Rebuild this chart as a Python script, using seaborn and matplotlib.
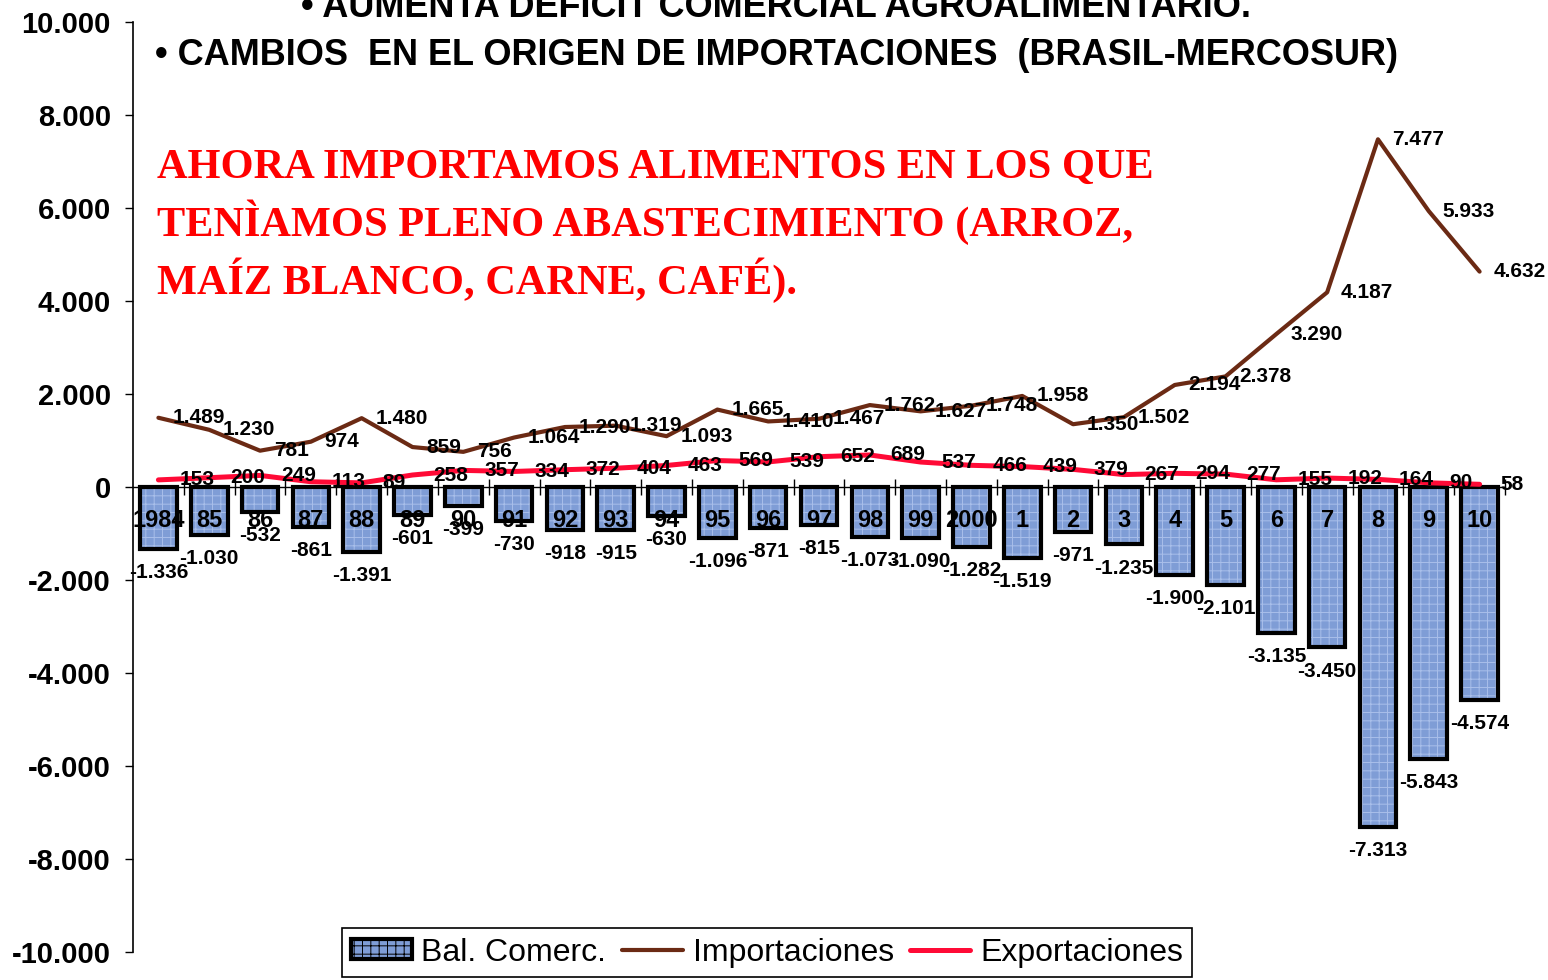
import numpy as np
import pandas as pd
import matplotlib
matplotlib.use('Agg')
import matplotlib.pyplot as plt
import seaborn as sns
from matplotlib.patches import Patch
from matplotlib.lines import Line2D

# data (millones US$)
years = ['1984', '85', '86', '87', '88', '89', '90', '91', '92', '93', '94', '95', '96', '97',
         '98', '99', '2000', '1', '2', '3', '4', '5', '6', '7', '8', '9', '10']
balance = [-1336, -1030, -532, -861, -1391, -601, -399, -730, -918, -915, -630, -1096, -871, -815,
           -1073, -1090, -1282, -1519, -971, -1235, -1900, -2101, -3135, -3450, -7313, -5843, -4574]
imports = [1489, 1230, 781, 974, 1480, 859, 756, 1064, 1290, 1319, 1093, 1665, 1410, 1467,
           1762, 1627, 1748, 1958, 1350, 1502, 2194, 2378, 3290, 4187, 7477, 5933, 4632]
exports = [153, 200, 249, 113, 89, 258, 357, 334, 372, 404, 463, 569, 539, 652,
           689, 537, 466, 439, 379, 267, 294, 277, 155, 192, 164, 90, 58]
yticks = list(range(-10000, 10001, 2000))

BAR = '#7f9dd6'
BAR_TEX = '#a9bfea'
BROWN = '#6b2a14'
RED = '#ff0a36'


def fmt(v):
    return f"{int(v):,}".replace(',', '.')


df = pd.DataFrame({'year': years, 'bal': balance, 'imp': imports, 'exp': exports})
df['pos'] = np.arange(len(df))
n = len(df)

sns.set_theme(style='white', rc={'text.color': 'black', 'axes.labelcolor': 'black',
                                 'xtick.color': 'black', 'ytick.color': 'black'})
plt.rcParams['font.family'] = ['Liberation Sans', 'DejaVu Sans']
plt.rcParams['hatch.linewidth'] = 0.7

fig = plt.figure(figsize=(15.48, 9.8), dpi=100)
ax = fig.add_axes([133 / 1548, 28 / 980, 1372 / 1548, 930 / 980])
ax.set_axisbelow(False)

# bars: fill, texture, black edge
sns.barplot(data=df, x='year', y='bal', order=years, color=BAR, saturation=1,
            width=0.72, linewidth=0, ax=ax, zorder=1)
ax.bar(df['pos'], df['bal'], width=0.66, facecolor='none', edgecolor=BAR_TEX,
       hatch='++', linewidth=0, zorder=1.1)
ax.bar(df['pos'], df['bal'], width=0.72, facecolor='none', edgecolor='black',
       linewidth=3, zorder=1.2)

sns.lineplot(x=df['pos'], y=df['imp'], color=BROWN, linewidth=3, ax=ax, zorder=3, legend=False)
sns.lineplot(x=df['pos'], y=df['exp'], color=RED, linewidth=3.6, ax=ax, zorder=3, legend=False)

for i, v in enumerate(balance):
    ax.annotate(fmt(v), (i, v), xytext=(0, -17), textcoords='offset points',
                ha='center', va='center', fontsize=15, fontweight='bold', zorder=5)
for i, v in enumerate(imports):
    ax.annotate(fmt(v), (i, v), xytext=(10, 0), textcoords='offset points',
                ha='left', va='center', fontsize=15, fontweight='bold', zorder=5)
for i, v in enumerate(exports):
    ax.annotate(fmt(v), (i, v), xytext=(15, 0), textcoords='offset points',
                ha='left', va='center', fontsize=15, fontweight='bold', zorder=5)

# spines first: set_position resets the ticks
for s in ['top', 'right']:
    ax.spines[s].set_visible(False)
ax.spines['bottom'].set_position(('data', 0))
ax.spines['bottom'].set_color('black')
ax.spines['bottom'].set_linewidth(1)
ax.spines['left'].set_color('black')
ax.spines['left'].set_linewidth(1.2)

ax.set_xlim(-0.5, n - 0.5)
ax.set_ylim(-10000, 10000)
ax.set_xlabel('')
ax.set_ylabel('')
ax.tick_params(axis='y', direction='out', length=6, width=1, pad=10, left=True,
               colors='black', labelsize=21)
ax.tick_params(axis='x', which='major', length=0, pad=15.5, colors='black', labelsize=17)
ax.tick_params(axis='x', which='minor', direction='inout', length=12, width=1, bottom=True)
ax.set_yticks(yticks, labels=[fmt(v) for v in yticks], fontweight='bold', fontsize=21)
ax.set_xticks(range(n), labels=years, fontweight='bold', fontsize=17)
ax.set_xticks(np.arange(n) + 0.5, minor=True)

fig.text(776 / 1548, 1 - 17 / 980, '• AUMENTA DÉFICIT COMERCIAL AGROALIMENTARIO.',
         ha='center', va='baseline', fontsize=26, fontweight='bold')
fig.text(776 / 1548, 1 - 65 / 980, '• CAMBIOS  EN EL ORIGEN DE IMPORTACIONES  (BRASIL-MERCOSUR)',
         ha='center', va='baseline', fontsize=26, fontweight='bold')

red_lines = ['AHORA IMPORTAMOS ALIMENTOS EN LOS QUE',
             'TENÌAMOS PLENO ABASTECIMIENTO (ARROZ,',
             'MAÍZ BLANCO, CARNE, CAFÉ).']
for k, line in enumerate(red_lines):
    fig.text(157 / 1548, 1 - (178 + 58 * k) / 980, line, ha='left', va='baseline',
             fontsize=30.5, fontweight='bold', color='#ff0000',
             family=['Liberation Serif', 'DejaVu Serif'])

handles = [Patch(facecolor=BAR, edgecolor='black', linewidth=3, hatch='++'),
           Line2D([], [], color=BROWN, linewidth=3),
           Line2D([], [], color=RED, linewidth=3.6)]
leg = fig.legend(handles, ['Bal. Comerc.', 'Importaciones', 'Exportaciones'],
                 loc='upper center', bbox_to_anchor=(767 / 1548, 1 - 928 / 980), ncol=3,
                 fontsize=23, frameon=True, fancybox=False, edgecolor='black', framealpha=1,
                 handlelength=1.9, handleheight=0.6, handletextpad=0.3, columnspacing=0.5,
                 borderpad=0.3, borderaxespad=0)
leg.get_frame().set_linewidth(1.2)

fig.savefig('out.png', dpi=100)
